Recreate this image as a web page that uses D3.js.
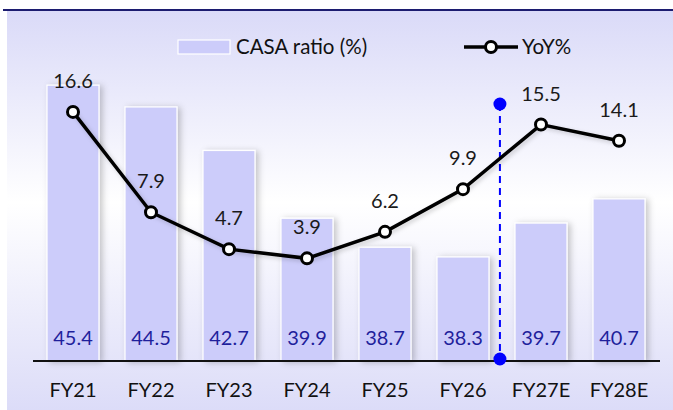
<!DOCTYPE html>
<html><head><meta charset="utf-8">
<script src="https://cdn.jsdelivr.net/npm/d3@7"></script>
<style>body{margin:0;background:#fff}svg{display:block}</style>
</head><body>
<script>
const categories = ["FY21","FY22","FY23","FY24","FY25","FY26","FY27E","FY28E"];
const casaRatio = [45.4,44.5,42.7,39.9,38.7,38.3,39.7,40.7];
const yoyGrowth = [16.6,7.9,4.7,3.9,6.2,9.9,15.5,14.1];
const seriesNames = ["CASA ratio (%)","YoY%"];

const W = 673, H = 410;
const font = "Lato, 'Open Sans', sans-serif";
const svg = d3.select("body").append("svg").attr("width", W).attr("height", H);
const defs = svg.append("defs");
const grad = defs.append("linearGradient").attr("id","bg").attr("x1",0).attr("y1",0).attr("x2",0).attr("y2",1);
grad.append("stop").attr("offset","0%").attr("stop-color","#dadaf8");
grad.append("stop").attr("offset","48%").attr("stop-color","#ffffff");
grad.append("stop").attr("offset","100%").attr("stop-color","#dcdcf8");
const sh = defs.append("filter").attr("id","shadow").attr("x","-30%").attr("y","-10%").attr("width","160%").attr("height","120%");
sh.append("feDropShadow").attr("dx",3).attr("dy",1).attr("stdDeviation",3).attr("flood-color","#000").attr("flood-opacity",0.22);
const sh2 = defs.append("filter").attr("id","lshadow").attr("x","-10%").attr("y","-10%").attr("width","120%").attr("height","130%");
sh2.append("feDropShadow").attr("dx",2).attr("dy",2).attr("stdDeviation",2).attr("flood-color","#000").attr("flood-opacity",0.18);

svg.append("rect").attr("x",7).attr("y",11).attr("width",W-7).attr("height",H-11).attr("fill","url(#bg)");
svg.append("line").attr("x1",3).attr("x2",W).attr("y1",10).attr("y2",10).attr("stroke","#1c1c70").attr("stroke-width",2);

const x = d3.scaleBand().domain(categories).range([34,658]).paddingInner(1/3).paddingOuter(1/6);
const y1 = d3.scaleLinear().domain([34,48.3]).range([361,15]);
const y2 = d3.scaleLinear().domain([-5,25]).range([361,15]);
const cx = d => x(d) + x.bandwidth()/2;

// bars
svg.append("g").selectAll("rect").data(categories).join("rect")
  .attr("x", d => x(d)).attr("width", x.bandwidth())
  .attr("y", (d,i) => y1(casaRatio[i])).attr("height", (d,i) => y1.range()[0] - y1(casaRatio[i]))
  .attr("fill","#ccccfa").attr("stroke","#fff").attr("stroke-width",1.2)
  .attr("filter","url(#shadow)");

// bar values
svg.append("g").selectAll("text").data(categories).join("text")
  .attr("x", d => cx(d)).attr("y", 345).attr("text-anchor","middle")
  .attr("font-family",font).attr("font-size",20).attr("fill","#1f1f9c")
  .text((d,i) => casaRatio[i].toFixed(1));

// x axis
const ax = svg.append("g").attr("transform","translate(0,361)")
  .call(d3.axisBottom(x).tickSize(0).tickPadding(22));
ax.select(".domain").attr("stroke","#111").attr("stroke-width",2).attr("d","M33,0H660");
ax.selectAll("text").attr("font-family",font).attr("font-size",20).attr("fill","#111");

// divider
const divX = x("FY26") + x.bandwidth() + (x.step()-x.bandwidth())*0.42;
svg.append("line").attr("x1",divX).attr("x2",divX).attr("y1",104).attr("y2",359)
  .attr("stroke","#0000ff").attr("stroke-width",2).attr("stroke-dasharray","7,5");
svg.append("circle").attr("cx",divX).attr("cy",104).attr("r",6.5).attr("fill","#0000ff");
svg.append("circle").attr("cx",divX).attr("cy",359).attr("r",6.5).attr("fill","#0000ff");

// line
const line = d3.line().x((d,i) => cx(categories[i])).y(d => y2(d));
svg.append("path").datum(yoyGrowth).attr("d",line).attr("fill","none")
  .attr("stroke","#000").attr("stroke-width",3.5).attr("filter","url(#lshadow)");
svg.append("g").selectAll("circle").data(yoyGrowth).join("circle")
  .attr("cx",(d,i) => cx(categories[i])).attr("cy", d => y2(d)).attr("r",5.5)
  .attr("fill","#fff").attr("stroke","#000").attr("stroke-width",3);
svg.append("g").selectAll("text").data(yoyGrowth).join("text")
  .attr("x",(d,i) => cx(categories[i])).attr("y", d => y2(d) - 24).attr("text-anchor","middle")
  .attr("font-family",font).attr("font-size",20).attr("fill","#1a1a1a")
  .text(d => d.toFixed(1));

// legend
const lg = svg.append("g");
lg.append("rect").attr("x",178).attr("y",40).attr("width",52).attr("height",14)
  .attr("fill","#ccccfa").attr("stroke","#fff").attr("stroke-width",1.2);
lg.append("text").attr("x",236).attr("y",54).attr("font-family",font).attr("font-size",20.5).attr("fill","#111").text(seriesNames[0]);
lg.append("line").attr("x1",464).attr("x2",518).attr("y1",47).attr("y2",47).attr("stroke","#000").attr("stroke-width",3.5);
lg.append("circle").attr("cx",491).attr("cy",47).attr("r",5.5).attr("fill","#fff").attr("stroke","#000").attr("stroke-width",3);
lg.append("text").attr("x",522).attr("y",54).attr("font-family",font).attr("font-size",20.5).attr("fill","#111").text(seriesNames[1]);
</script>
</body></html>
